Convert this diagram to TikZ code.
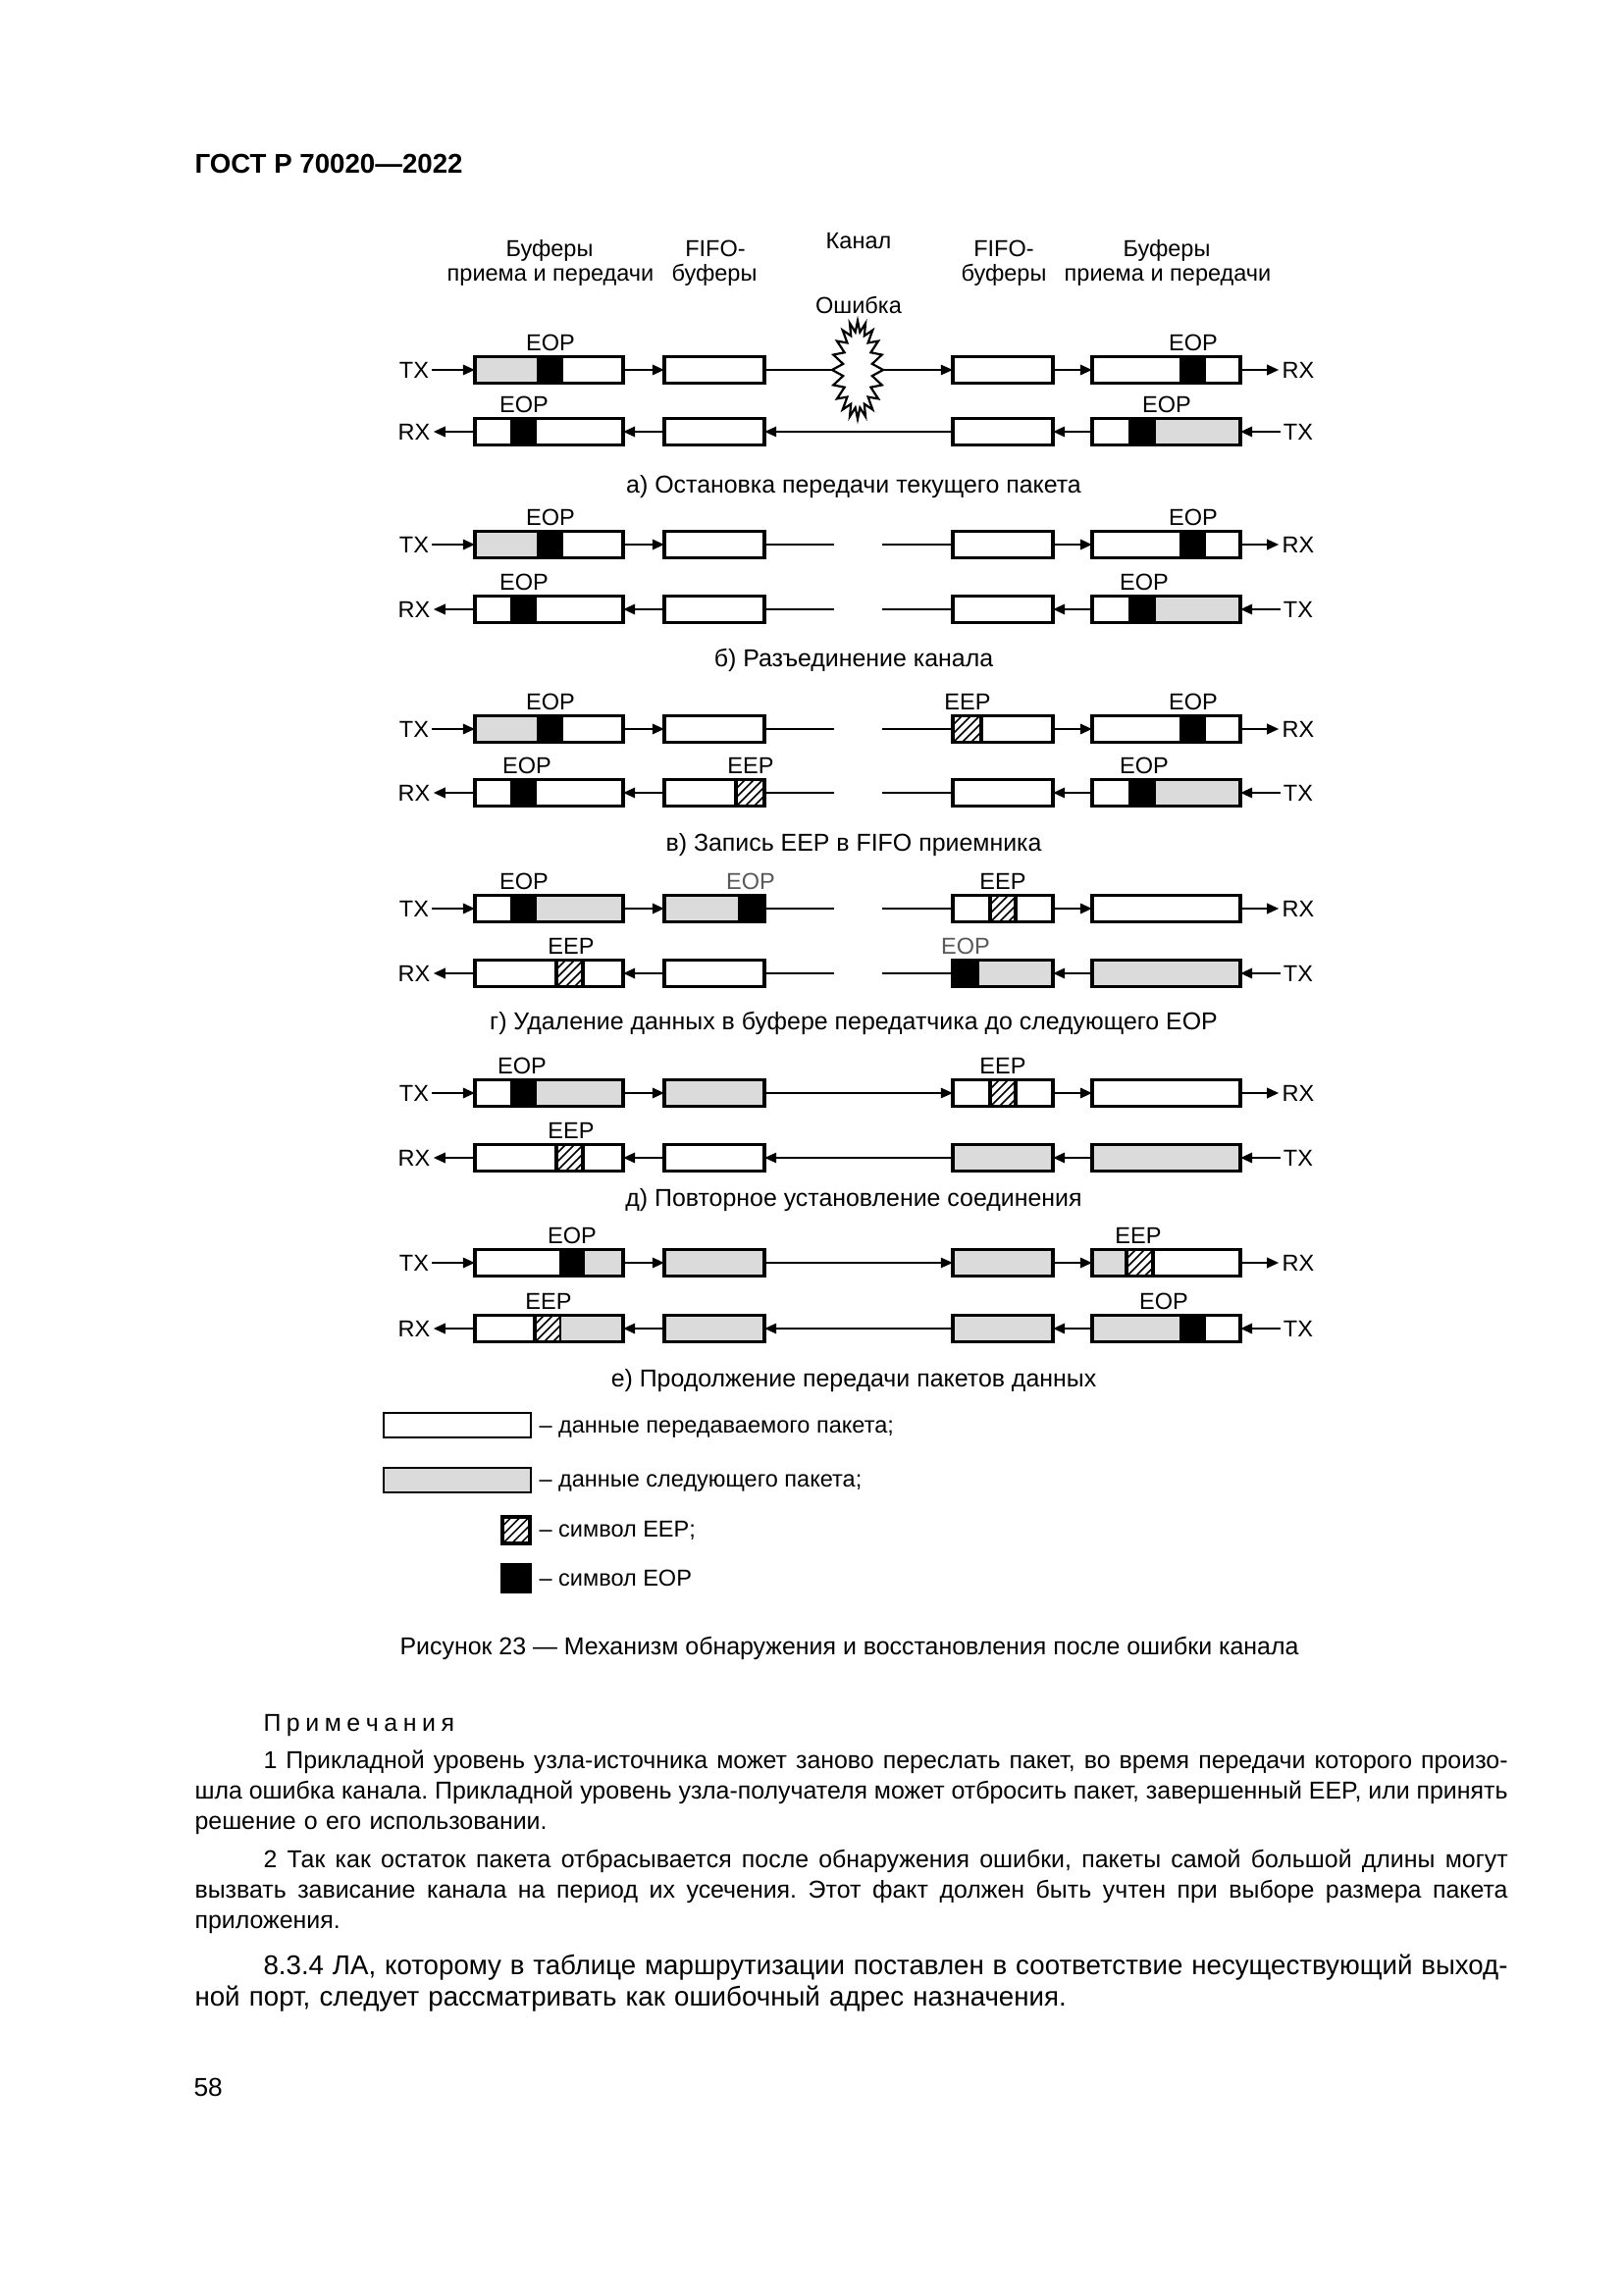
\documentclass[tikz,border=0pt]{standalone}
\usepackage{fontspec}
\setmainfont{Liberation Sans}
\usetikzlibrary{arrows.meta}
\colorlet{nxt}{black!14}
\def\PX{0.127mm}
\newlength\TW \setlength\TW{169.93mm}
\newlength\IND \setlength\IND{8.89mm}
\newcommand\lblfont{\fontsize{8.5}{10}\selectfont}
\newcommand\capfont{\fontsize{9}{11}\selectfont}
\newcommand\notefont{\fontsize{9}{11.2}\selectfont}
\newcommand\bodyfont{\fontsize{10}{11.9}\selectfont}
% justified line: every space becomes explicit stretchable glue
\def\Jx#1 #2\Jend{#1\if\relax\detokenize{#2}\relax\else\hskip 0.278em plus 1fil minus 1fil\relax\Jx#2\Jend\fi}
\newcommand\J[1]{\hbox to\TW{\Jx#1 \Jend}}
\tikzset{
  bx/.style={draw, line width=1.15pt, inner sep=0pt, outer sep=0pt, minimum height=27*\PX},
  buf/.style={bx, minimum width=151*\PX},
  ff/.style={bx, minimum width=102*\PX},
  lbl/.style={font=\lblfont, inner sep=1pt, text height=6.1pt, text depth=0pt},
  tag/.style={lbl, inner sep=0pt},
  gtag/.style={tag, text=black!65},
  txt/.style={font=\lblfont, inner sep=0pt, anchor=base},
  capn/.style={font=\capfont, inner sep=0pt, anchor=base},
  arr/.style={line width=0.95pt, -{Triangle[length=4.4pt,width=3.7pt]}},
  ln/.style={line width=0.95pt},
  chan/.style={line width=0.75pt, -{Triangle[length=4.4pt,width=3.7pt]}},
  hl/.style={line width=0.55pt},
  bl/.style={line width=1.15pt},
}
\newcommand\fillseg[4]{\fill[#1] (#2,#4-13.5) rectangle (#3,#4+13.5);}
\newcommand\hatchseg[3]{%
  \begin{scope}
    \clip (#1,#3-13.5) rectangle (#2,#3+13.5);
    \foreach \k in {0,...,8}{\draw[hl] (#1-36+\k*9,#3+14) -- ++(32,-32);}
  \end{scope}
  \draw[bl] (#1,#3-13.5) -- (#1,#3+13.5) (#2,#3-13.5) -- (#2,#3+13.5);
}
\newcommand\toprow[3]{%
  \node[lbl] (LL#1) at (422,#2) {TX};
  \node[buf] (bL#1) at (559.5,#2) {};
  \node[ff] (fL#1) at (728,#2) {};
  \node[ff] (fR#1) at (1022,#2) {};
  \node[buf] (bR#1) at (1188.5,#2) {};
  \node[lbl] (RL#1) at (1323,#2) {RX};
  \draw[arr] (LL#1) -- (bL#1);
  \draw[arr] (bL#1) -- (fL#1);
  \draw[arr] (fR#1) -- (bR#1);
  \draw[arr] (bR#1) -- (RL#1);
  \ifx c#3
    \coordinate (cA#1) at (850,#2);
    \coordinate (cB#1) at (899,#2);
    \draw[ln] (fL#1) -- (cA#1);
    \draw[ln] (cB#1) -- (fR#1);
  \else
    \draw[chan] (fL#1) -- (fR#1);
  \fi
}
\newcommand\botrow[3]{%
  \node[lbl] (LL#1) at (422,#2) {RX};
  \node[buf] (bL#1) at (559.5,#2) {};
  \node[ff] (fL#1) at (728,#2) {};
  \node[ff] (fR#1) at (1022,#2) {};
  \node[buf] (bR#1) at (1188.5,#2) {};
  \node[lbl] (RL#1) at (1323,#2) {TX};
  \draw[arr] (RL#1) -- (bR#1);
  \draw[arr] (bR#1) -- (fR#1);
  \draw[arr] (fL#1) -- (bL#1);
  \draw[arr] (bL#1) -- (LL#1);
  \ifx c#3
    \coordinate (cA#1) at (850,#2);
    \coordinate (cB#1) at (899,#2);
    \draw[ln] (fR#1) -- (cB#1);
    \draw[ln] (cA#1) -- (fL#1);
  \else
    \draw[chan] (fR#1) -- (fL#1);
  \fi
}
\begin{document}
\begin{tikzpicture}[x=0.127mm,y=-0.127mm]
\fill[white] (0,0) rectangle (1654,2339);
\useasboundingbox (0,0) rectangle (1654,2339);

% page header
\node[anchor=base west, inner sep=0pt, font=\fontsize{10}{12}\selectfont\bfseries] (hdr) at (198,177) {ГОСТ Р 70020—2022};

% column headings
\node[txt] (h1) at (560,262) {Буферы};
\node[txt] (h2) at (561,287) {приема и передачи};
\node[txt] (h3) at (729,262) {FIFO-};
\node[txt] (h4) at (728,287) {буферы};
\node[txt] (h5) at (875,254) {Канал};
\node[txt] (h6) at (1023,262) {FIFO-};
\node[txt] (h7) at (1023,287) {буферы};
\node[txt] (h8) at (1189,262) {Буферы};
\node[txt] (h9) at (1190,287) {приема и передачи};
\node[txt] (err) at (875,320) {Ошибка};

% ---------- panel a
\fillseg{nxt}{484}{547}{377}
\fillseg{black}{547}{574}{377}
\fillseg{black}{1202}{1229}{377}
\fillseg{black}{520}{547}{440}
\fillseg{black}{1150}{1178}{440}
\fillseg{nxt}{1178}{1264}{440}
\toprow{a1}{377}{f}
\botrow{a2}{440}{f}
\draw[line width=0.8pt, fill=white] plot[samples at={0,...,39}, variable=\i]
  ({874+(26-11*mod(\i,2))*cos(\i*9)}, {377+(50-11*mod(\i,2))*sin(\i*9)}) -- cycle;
\node[tag] (ta1) at (561,349) {EOP};
\node[tag] (ta2) at (1216,349) {EOP};
\node[tag] (ta3) at (534,412) {EOP};
\node[tag] (ta4) at (1189,412) {EOP};
\node[capn] (capa) at (870,503) {а) Остановка передачи текущего пакета};

% ---------- panel b
\fillseg{nxt}{484}{547}{555}
\fillseg{black}{547}{574}{555}
\fillseg{black}{1202}{1229}{555}
\fillseg{black}{520}{547}{621}
\fillseg{black}{1150}{1178}{621}
\fillseg{nxt}{1178}{1264}{621}
\toprow{b1}{555}{c}
\botrow{b2}{621}{c}
\node[tag] (tb1) at (561,527) {EOP};
\node[tag] (tb2) at (1216,527) {EOP};
\node[tag] (tb3) at (534,593) {EOP};
\node[tag] (tb4) at (1166,593) {EOP};
\node[capn] (capb) at (870,680) {б) Разъединение канала};

% ---------- panel c
\fillseg{nxt}{484}{547}{743}
\fillseg{black}{547}{574}{743}
\hatchseg{971}{1000}{743}
\fillseg{black}{1202}{1229}{743}
\fillseg{black}{520}{547}{808}
\hatchseg{750}{779}{808}
\fillseg{black}{1150}{1178}{808}
\fillseg{nxt}{1178}{1264}{808}
\toprow{c1}{743}{c}
\botrow{c2}{808}{c}
\node[tag] (tc1) at (561,715) {EOP};
\node[tag] (tc2) at (986,715) {EEP};
\node[tag] (tc3) at (1216,715) {EOP};
\node[tag] (tc4) at (537,780) {EOP};
\node[tag] (tc5) at (765,780) {EEP};
\node[tag] (tc6) at (1166,780) {EOP};
\node[capn] (capc) at (870,867) {в) Запись EEP в FIFO приемника};

% ---------- panel d (г)
\fillseg{black}{520}{547}{926}
\fillseg{nxt}{547}{635}{926}
\fillseg{nxt}{677}{752}{926}
\fillseg{black}{752}{779}{926}
\hatchseg{1009}{1035}{926}
\hatchseg{567}{594}{992}
\fillseg{black}{971}{998}{992}
\fillseg{nxt}{998}{1073}{992}
\fillseg{nxt}{1113}{1264}{992}
\toprow{d1}{926}{c}
\botrow{d2}{992}{c}
\node[tag] (td1) at (534,898) {EOP};
\node[gtag] (td2) at (765,898) {EOP};
\node[tag] (td3) at (1022,898) {EEP};
\node[tag] (td4) at (582,964) {EEP};
\node[gtag] (td5) at (984,964) {EOP};
\node[capn] (capd) at (870,1049) {г) Удаление данных в буфере передатчика до следующего EOP};

% ---------- panel e (д)
\fillseg{black}{520}{547}{1114}
\fillseg{nxt}{547}{635}{1114}
\fillseg{nxt}{677}{779}{1114}
\hatchseg{1009}{1035}{1114}
\hatchseg{567}{594}{1180}
\fillseg{nxt}{971}{1073}{1180}
\fillseg{nxt}{1113}{1264}{1180}
\toprow{e1}{1114}{f}
\botrow{e2}{1180}{f}
\node[tag] (te1) at (532,1086) {EOP};
\node[tag] (te2) at (1022,1086) {EEP};
\node[tag] (te3) at (582,1152) {EEP};
\node[capn] (cape) at (870,1229) {д) Повторное установление соединения};

% ---------- panel f (е)
\fillseg{black}{570}{596}{1287}
\fillseg{nxt}{596}{635}{1287}
\fillseg{nxt}{677}{779}{1287}
\fillseg{nxt}{971}{1073}{1287}
\fillseg{nxt}{1113}{1148}{1287}
\hatchseg{1148}{1175}{1287}
\hatchseg{545}{572}{1354}
\fillseg{nxt}{572}{635}{1354}
\fillseg{nxt}{677}{779}{1354}
\fillseg{nxt}{971}{1073}{1354}
\fillseg{nxt}{1113}{1202}{1354}
\fillseg{black}{1202}{1229}{1354}
\toprow{f1}{1287}{f}
\botrow{f2}{1354}{f}
\node[tag] (tf1) at (583,1259) {EOP};
\node[tag] (tf2) at (1160,1259) {EEP};
\node[tag] (tf3) at (559,1326) {EEP};
\node[tag] (tf4) at (1186,1326) {EOP};
\node[capn] (capf) at (870,1413) {е) Продолжение передачи пакетов данных};

% ---------- legend
\node[bx, line width=0.9pt, minimum width=150*\PX, minimum height=25*\PX] (lg1) at (466,1452.5) {};
\node[bx, line width=0.9pt, fill=nxt, minimum width=150*\PX, minimum height=25*\PX] (lg2) at (466,1508.5) {};
\hatchseg{512}{540}{1559.5}
\node[bx, minimum width=28*\PX, minimum height=27*\PX] (lg3) at (526,1559.5) {};
\node[bx, fill=black, minimum width=28*\PX, minimum height=27*\PX] (lg4) at (526,1608.5) {};
\node[txt, anchor=base west] (lt1) at (549,1460) {– данные передаваемого пакета;};
\node[txt, anchor=base west] (lt2) at (549,1515) {– данные следующего пакета;};
\node[txt, anchor=base west] (lt3) at (549,1566) {– символ EEP;};
\node[txt, anchor=base west] (lt4) at (549,1616) {– символ EOP};

% ---------- figure caption and notes
\node[capn] (figcap) at (865.5,1686) {Рисунок 23 — Механизм обнаружения и восстановления после ошибки канала};
\node[anchor=base west, inner sep=0pt, font=\notefont] (prim) at (268,1764)
  {П\kern2pt р\kern2pt и\kern2pt м\kern2pt е\kern2pt ч\kern2pt а\kern2pt н\kern2pt и\kern2pt я};
\node[anchor=base west, inner sep=0pt, text width=\TW, font=\notefont] (note1) at (198,1802)
  {\J{\hspace*{\IND}1 Прикладной уровень узла-источника может заново переслать пакет, во время передачи которого произо-}
   \J{шла ошибка канала. Прикладной уровень узла-получателя может отбросить пакет, завершенный EEP, или принять}
   \hbox{решение о его использовании.}};
\node[anchor=base west, inner sep=0pt, text width=\TW, font=\notefont] (note2) at (198,1903)
  {\J{\hspace*{\IND}2 Так как остаток пакета отбрасывается после обнаружения ошибки, пакеты самой большой длины могут}
   \J{вызвать зависание канала на период их усечения. Этот факт должен быть учтен при выборе размера пакета}
   \hbox{приложения.}};
\node[anchor=base west, inner sep=0pt, text width=\TW, font=\bodyfont] (body) at (198,2012)
  {\J{\hspace*{\IND}8.3.4 ЛА, которому в таблице маршрутизации поставлен в соответствие несуществующий выход-}
   \hbox{ной порт, следует рассматривать как ошибочный адрес назначения.}};
\node[anchor=base west, inner sep=0pt, font=\fontsize{9.5}{11}\selectfont] (pg) at (197,2136) {58};
\end{tikzpicture}
\end{document}
